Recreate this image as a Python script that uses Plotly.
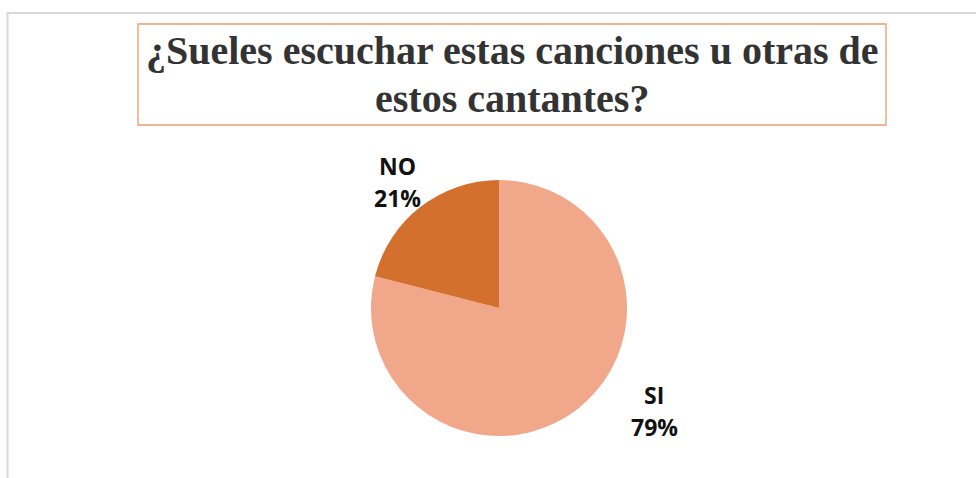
import plotly.graph_objects as go

labels = ["SI", "NO"]
values = [79, 21]
colors = ["#F1A88A", "#D4702D"]
title_lines = ["¿Sueles escuchar estas canciones u otras de", "estos cantantes?"]

W, H = 976, 478

def px(x):
    return x / W

def py(y):
    return 1 - y / H

fig = go.Figure()
fig.add_trace(go.Pie(
    labels=labels, values=values, sort=False, direction="clockwise", rotation=0,
    marker=dict(colors=colors, line=dict(width=0)),
    textinfo="none", hoverinfo="label+percent", showlegend=False,
    domain=dict(x=[px(371), px(627)], y=[py(436), py(180)]),
))

total = sum(values)
label_pos = {"NO": (397, 166), "SI": (654, 395)}
for lab, val in zip(labels, values):
    lx, ly = label_pos[lab]
    fig.add_annotation(x=px(lx), y=py(ly), xref="paper", yref="paper", text=f"<b>{lab}</b>",
                       xanchor="center", yanchor="middle",
                       showarrow=False, font=dict(family="Open Sans", size=23, color="#111111"))
    fig.add_annotation(x=px(lx), y=py(ly + 31.5), xref="paper", yref="paper",
                       text=f"<b>{round(100 * val / total)}%</b>",
                       xanchor="center", yanchor="middle",
                       showarrow=False, font=dict(family="Open Sans", size=23, color="#111111"))

# title box
fig.add_shape(type="rect", xref="paper", yref="paper", x0=px(138), x1=px(886), y0=py(125), y1=py(24),
              line=dict(color="#EE9C68", width=1.3), fillcolor="rgba(0,0,0,0)")
for i, t in enumerate(title_lines):
    fig.add_annotation(x=px(512), y=py(50 + 48 * i), xref="paper", yref="paper", text=f"<b>{t}</b>",
                       xanchor="center", yanchor="middle",
                       showarrow=False, font=dict(family="Liberation Serif", size=40, color="#333333"))

# outer frame
fig.add_shape(type="path", xref="paper", yref="paper",
              path=f"M {px(7.5)} {py(480)} L {px(7.5)} {py(13)} L {px(980)} {py(13)}",
              line=dict(color="#D9D9D9", width=2))

fig.update_layout(width=W, height=H, margin=dict(l=0, r=0, t=0, b=0),
                  paper_bgcolor="white", plot_bgcolor="white")
fig.write_html("out.html", config={"displayModeBar": False},
               post_script="document.body.style.margin='0';")
